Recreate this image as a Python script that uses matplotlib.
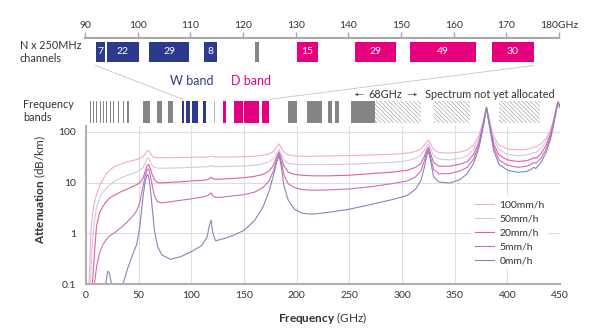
import matplotlib
matplotlib.use("Agg")
import matplotlib.pyplot as plt
from matplotlib.patches import Rectangle, ConnectionPatch, FancyArrowPatch
from matplotlib.ticker import NullLocator

plt.rcParams['font.family'] = ['Lato', 'DejaVu Sans']
plt.rcParams['mathtext.fontset'] = 'custom'
plt.rcParams['mathtext.rm'] = 'Lato'
plt.rcParams['mathtext.bf'] = 'Lato:bold'
plt.rcParams['hatch.linewidth'] = 0.5

TXT = '#333333'

# attenuation curves (GHz, dB/km)
freq = [1, 3, 4.5, 6, 8, 10, 13, 16, 19, 20.5,
        22, 24, 26, 30, 35, 40, 45, 48, 51, 54,
        56, 58, 59.5, 61, 63, 65, 68, 72, 80, 90,
        100, 110, 115, 117, 118.7, 120.5, 123, 130, 140, 150,
        160, 168, 174, 178, 181, 183.3, 185.5, 188, 192, 198,
        205, 215, 230, 250, 270, 290, 305, 313, 318, 321,
        323.5, 325.2, 327, 330, 335, 345, 355, 362, 368, 373,
        377, 380.2, 383, 387, 392, 400, 410, 418, 423, 425,
        427, 432, 437, 441, 444, 446.5, 448, 450]

rain_100 = [0.01, 0.11, 1.0, 2.3, 4.0, 5.8, 8.8, 11.5, 14.5, 15.8,
            17, 18.5, 20, 22, 24, 26, 27.5, 28.5, 30, 32,
            36, 42, 43, 38, 33, 31.5, 31, 31, 31, 31.3,
            31.5, 31.8, 32, 32.5, 33.5, 32.5, 32, 32, 32, 32.3,
            33, 34.5, 37, 41, 50, 58, 48, 40, 35, 33.5,
            33, 33, 33.5, 34, 35, 36, 38, 41, 46, 54,
            64, 68, 58, 45, 39, 38, 40, 44, 55, 85,
            160, 310, 170, 80, 55, 46, 44, 45, 48, 50,
            50, 58, 75, 110, 180, 300, 400, 330]

rain_50 = [0.005, 0.05, 0.15, 0.6, 1.8, 3.3, 5.0, 6.4, 7.6, 8.2,
           8.8, 9.5, 10.2, 11.5, 12.8, 14, 15.5, 16.3, 17.5, 19.5,
           24, 29.5, 30.5, 26, 21.5, 20, 19.3, 19.2, 19.3, 19.6,
           20, 20.3, 20.5, 21, 21.8, 21, 20.6, 20.8, 21, 21.3,
           22, 23.5, 26, 30, 38, 45, 36, 28, 24, 23,
           22.5, 22.5, 22.7, 23, 24, 25, 27, 30, 35, 43,
           53, 58, 48, 34, 29, 28, 30, 34, 45, 75,
           150, 305, 160, 70, 45, 36, 34, 35, 37, 39,
           39, 47, 65, 100, 170, 290, 390, 320]

rain_20 = [0.002, 0.01, 0.04, 0.1, 0.4, 1.4, 2.6, 3.4, 4.2, 4.5,
           4.9, 5.2, 5.5, 6.1, 6.9, 7.6, 8.5, 9.1, 9.9, 12,
           16, 21.5, 23, 19, 14, 11.5, 10, 9.9, 10.1, 10.4,
           10.8, 11.1, 11.4, 11.8, 12.8, 12, 11.6, 11.8, 12.1, 12.5,
           13.3, 14.5, 17, 22, 32, 40, 30, 21, 16, 14.5,
           14, 13.6, 13.6, 14, 15, 16, 17.5, 20, 24, 32,
           44, 50, 38, 25, 21, 21, 23, 26, 36, 62,
           140, 300, 150, 58, 35, 28, 26, 27, 29, 31,
           30, 37, 55, 90, 160, 280, 385, 315]

rain_5 = [0.001, 0.003, 0.008, 0.02, 0.1, 0.22, 0.42, 0.6, 0.75, 0.81,
          0.88, 0.94, 1.0, 1.15, 1.4, 1.75, 2.3, 2.8, 4.0, 8,
          13, 18, 18.5, 14, 8.5, 5.5, 4.2, 4.0, 4.2, 4.5,
          4.8, 5.2, 5.5, 5.9, 6.3, 5.5, 5.1, 5.2, 5.5, 5.8,
          6.5, 8, 11, 17, 28, 38, 25, 14, 9.5, 8,
          7.3, 7.1, 7.2, 7.5, 8.3, 9.5, 10.8, 13, 17, 26,
          40, 46, 32, 18, 15, 15, 17, 20, 29, 55,
          130, 295, 140, 50, 28, 22, 20, 21, 23, 25,
          24, 30, 46, 80, 150, 270, 380, 310]

rain_0 = [0.001, 0.002, 0.004, 0.008, 0.02, 0.03, 0.05, 0.08, 0.11, 0.18,
          0.17, 0.11, 0.08, 0.06, 0.1, 0.22, 0.42, 0.6, 1.3, 5,
          10, 14.5, 13.5, 8, 3, 1.15, 0.55, 0.38, 0.31, 0.35,
          0.44, 0.58, 0.85, 1.4, 1.85, 1.0, 0.72, 0.78, 0.92, 1.15,
          1.8, 3.3, 7, 14, 25, 34, 20, 8.5, 4.5, 3.0,
          2.5, 2.4, 2.6, 3.0, 3.7, 4.6, 5.6, 7.5, 11, 19,
          34, 42, 28, 13, 10.3, 9.8, 11.5, 15, 24, 48,
          120, 290, 130, 43, 23, 17.5, 16, 16.5, 18.5, 20,
          19, 25, 40, 72, 140, 260, 370, 300]

series = [rain_100, rain_50, rain_20, rain_5, rain_0]
series_labels = ['100mm/h', '50mm/h', '20mm/h', '5mm/h', '0mm/h']
series_colors = ['#f5aacd', '#cbcce0', '#e2609f', '#cf6db7', '#8088b8']

# channels in the 90-180 GHz zoom
chan_start = [92.0, 94.1, 102.1, 112.6, 122.3, 130.2, 141.2, 151.7, 167.2]
chan_end = [93.8, 100.2, 109.8, 115.1, 123.0, 134.3, 149.1, 164.3, 175.2]
chan_count = ['7', '22', '29', '8', '', '15', '29', '49', '30']
chan_band = ['W', 'W', 'W', 'W', 'other', 'D', 'D', 'D', 'D']

# allocated frequency bands (start, width) in GHz
bands_gray = [(3.4, 0.9), (6.6, 0.9), (9.8, 0.9), (13.0, 0.9), (16.2, 0.9),
              (19.3, 0.9), (22.5, 0.9), (25.3, 0.9), (30.2, 1.1), (34.8, 1.1),
              (38.6, 2.4), (54.4, 6.4), (67.1, 4.8), (77.5, 5.4),
              (191.5, 8.5), (209.5, 14.5), (230.0, 4.0), (236.5, 3.5), (251.5, 23.0)]
bands_light = [(121.5, 1.0)]
bands_w = [(91.1, 2.4), (94.9, 3.8), (100.6, 5.7), (111.4, 2.6)]
bands_d = [(129.8, 3.1), (140.8, 7.9), (150.3, 14.3), (166.8, 7.2)]
bands_unalloc = [(274.5, 44.0), (330.5, 34.0), (392.0, 39.0)]

BLUE = '#2d3a8c'
PINK = '#e6007e'
GRAY = '#858585'
band_colors = {'W': BLUE, 'D': PINK, 'other': GRAY}

W_PX, H_PX = 598, 336
fig = plt.figure(figsize=(W_PX / 100, H_PX / 100), dpi=100)

L = 86 / W_PX
W = 474 / W_PX

def fy(px):
    return 1 - px / H_PX

# main chart
ax = fig.add_axes([L, fy(284.3), W, (284.3 - 126) / H_PX])
ax.patch.set_visible(False)
clip = Rectangle((0, 0), 1, 1.3, transform=ax.transAxes)
for vals, lab, col in zip(series, series_labels, series_colors):
    ln, = ax.plot(freq, vals, color=col, lw=0.8, label=lab)
    ln.set_clip_path(clip)

ax.set_yscale('log')
ax.set_xlim(0, 450)
ax.set_ylim(0.1, 130)
ax.set_xticks(range(0, 451, 50))
ax.set_yticks([0.1, 1, 10, 100])
ax.set_yticklabels(['0.1', '1', '10', '100'])
ax.yaxis.set_minor_locator(NullLocator())
ax.tick_params(length=0, labelsize=7.5, colors=TXT)
ax.tick_params(axis='y', pad=7)
ax.tick_params(axis='x', pad=5)
ax.grid(True, color='#dedede', lw=0.8)
ax.set_axisbelow(True)
for s in ['top', 'right']:
    ax.spines[s].set_visible(False)
for s in ['left', 'bottom']:
    ax.spines[s].set_color('#b0b0b0')
    ax.spines[s].set_linewidth(1.5)

ax.set_xlabel(r'$\mathbf{Frequency}$ (GHz)', fontsize=8.5, color=TXT)
ax.xaxis.set_label_coords(0.5, -0.16)
ax.set_ylabel(r'$\mathbf{Attenuation}$ (dB/km)', fontsize=8.5, color=TXT)
ax.yaxis.set_label_coords(-0.08, 0.6)

leg = ax.legend(loc='upper left', bbox_to_anchor=(0.812, 0.555), borderaxespad=0,
                frameon=True, facecolor='white', edgecolor='none', framealpha=1,
                fontsize=7.5, handlelength=1.9, handletextpad=0.5,
                labelspacing=0.45, borderpad=0.35)
for t in leg.get_texts():
    t.set_color(TXT)

# frequency band strip
axb = fig.add_axes([L, fy(123), W, 22 / H_PX])
axb.set_xlim(0, 450)
axb.set_ylim(0, 1)
axb.axis('off')
axb.broken_barh(bands_gray, (0, 1), facecolors=GRAY)
axb.broken_barh(bands_light, (0, 1), facecolors='#b5b5b5')
axb.broken_barh(bands_w, (0, 1), facecolors=BLUE)
axb.broken_barh(bands_d, (0, 1), facecolors=PINK)
axb.broken_barh(bands_unalloc, (0, 1), facecolors='white', edgecolors='#a8a8a8',
                hatch='\\' * 8, linewidth=0)

# channel zoom 90-180 GHz
axt = fig.add_axes([L - 1 / W_PX, fy(63), W, 25 / H_PX])
axt.set_xlim(90, 180)
axt.set_ylim(0, 1)
cols = [band_colors[b] for b in chan_band]
widths = [e - s for s, e in zip(chan_start, chan_end)]
axt.bar(chan_start, 0.8, width=widths, bottom=0.04, align='edge', color=cols)
for s, w, n in zip(chan_start, widths, chan_count):
    axt.text(s + w / 2, 0.44, n, color='white', fontsize=7.5, ha='center', va='center')
for s in ['left', 'right', 'bottom']:
    axt.spines[s].set_visible(False)
axt.spines['top'].set_color('#a8a8a8')
axt.spines['top'].set_linewidth(1.5)
axt.xaxis.tick_top()
axt.set_xticks(range(90, 181, 10))
axt.set_xticklabels([str(v) for v in range(90, 180, 10)] + ['180GHz'])
axt.tick_params(axis='x', direction='out', length=4, width=1, color='#a8a8a8',
                labelsize=7.5, labelcolor=TXT, pad=1.5)
axt.set_yticks([])

for xa, xb in [(chan_start[0], chan_start[0]), (chan_end[-1], chan_end[-1] - 0.5)]:
    con = ConnectionPatch(xyA=(xa, -0.1), coordsA=axt.transData,
                          xyB=(xb, 1.08), coordsB=axb.transData,
                          color='#b8b8b8', lw=0.6, linestyle=(0, (1, 1)))
    fig.add_artist(con)

# annotations
fig.text(20 / W_PX, fy(52), 'N x 250MHz\nchannels', fontsize=7.8, color=TXT,
         ha='left', va='center', linespacing=1.15)
fig.text(23 / W_PX, fy(111), 'Frequency\nbands', fontsize=7.8, color=TXT,
         ha='left', va='center', linespacing=1.15)
fig.text(192 / W_PX, fy(81), 'W band', fontsize=9, color=BLUE, ha='center', va='center')
fig.text(251 / W_PX, fy(81), 'D band', fontsize=9, color=PINK, ha='center', va='center')
fig.text(385 / W_PX, fy(94), '68GHz', fontsize=7.8, color=TXT, ha='center', va='center')
fig.text(425 / W_PX, fy(94), 'Spectrum not yet allocated', fontsize=7.8, color=TXT,
         ha='left', va='center')
arrow = dict(arrowstyle='-|>', lw=0.5, color='#555555', mutation_scale=4)
fig.add_artist(FancyArrowPatch((366 / W_PX, fy(94.5)), (352 / W_PX, fy(94.5)),
                               transform=fig.transFigure, **arrow))
fig.add_artist(FancyArrowPatch((405 / W_PX, fy(94.5)), (420 / W_PX, fy(94.5)),
                               transform=fig.transFigure, **arrow))

fig.savefig('out.png', dpi=100)
